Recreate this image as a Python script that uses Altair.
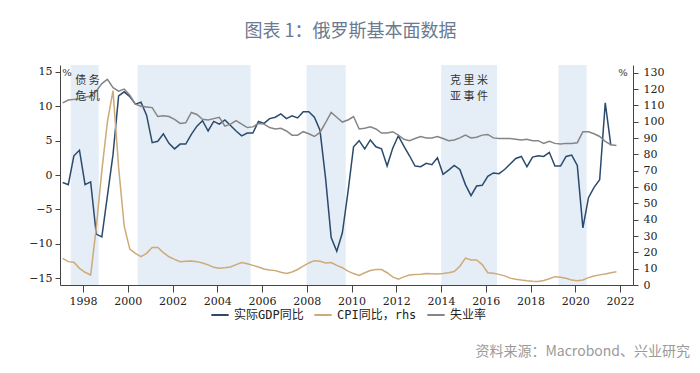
import altair as alt
import pandas as pd

# quarterly index since 1997Q1
gdp = [-1.1, -1.4, 2.8, 3.6, -1.4, -1.0, -8.6, -9.0, -3.0, 3.0,
       11.5, 12.1, 11.4, 10.3, 10.6, 8.7, 4.7, 4.9, 6.0, 4.6,
       3.8, 4.5, 4.5, 5.9, 7.1, 7.9, 6.4, 7.8, 7.4, 8.0,
       7.2, 6.4, 5.7, 6.1, 6.1, 7.8, 7.5, 8.2, 8.4, 8.9,
       8.2, 8.6, 8.3, 9.2, 9.2, 8.4, 6.5, -0.5, -9.1, -11.1,
       -8.4, -2.5, 4.1, 5.0, 3.8, 5.1, 4.1, 3.8, 1.3, 3.9,
       5.7, 4.2, 2.8, 1.3, 1.2, 1.7, 1.5, 2.5, 0.1, 0.7,
       1.4, 0.8, -1.4, -3.0, -1.6, -1.5, -0.2, 0.3, 0.2, 0.8,
       1.6, 2.4, 2.7, 1.2, 2.6, 2.8, 2.7, 3.3, 1.3, 1.3,
       2.7, 2.9, 1.4, -7.7, -3.3, -1.8, -0.7, 10.5, 4.3]

cpi = [16.3, 14.3, 13.9, 10.2, 7.8, 6.1, 35, 70, 100, 119,
       72, 36, 22, 19.4, 17.3, 19.4, 23, 23, 19.8, 17.3,
       15.7, 14.3, 14.5, 14.7, 14.3, 13.5, 12.3, 10.8, 10.2, 10.5,
       11.0, 12.5, 13.8, 13.0, 12.0, 11.0, 9.8, 9.2, 8.8, 7.8,
       7.1, 8.0, 9.5, 11.5, 13.5, 14.9, 14.5, 13.5, 13.7, 12.0,
       10.6, 8.5, 7.0, 5.8, 7.5, 8.9, 9.5, 9.5, 7.5, 5.0,
       3.6, 5.0, 6.1, 6.4, 6.6, 7.0, 6.9, 6.7, 7.0, 7.5,
       8.2, 11.5, 16.5, 15.3, 15.3, 12.5, 7.5, 7.2, 6.5, 5.6,
       4.2, 3.5, 3.0, 2.6, 2.3, 2.2, 2.8, 3.8, 5.1, 4.7,
       4.1, 3.0, 2.6, 3.1, 4.5, 5.5, 6.2, 6.8, 7.5, 8.1]

unemp = [10.5, 10.9, 11.0, 11.1, 11.3, 11.5, 12.2, 13.3, 13.9, 12.7,
         12.2, 12.5, 11.6, 10.3, 10.0, 9.9, 9.8, 8.5, 8.6, 8.5,
         8.1, 7.5, 7.6, 9.1, 8.8, 8.1, 8.0, 8.2, 8.4, 7.1,
         7.4, 7.9, 7.4, 6.9, 7.0, 7.5, 7.4, 6.9, 6.7, 6.8,
         6.4, 5.8, 5.8, 6.3, 6.0, 5.6, 6.2, 7.6, 9.1, 8.4,
         7.7, 8.0, 8.5, 6.7, 6.8, 7.0, 6.7, 6.1, 6.1, 6.3,
         5.8, 5.2, 5.0, 5.3, 5.6, 5.4, 5.4, 5.6, 5.3, 5.0,
         5.1, 5.4, 5.8, 5.4, 5.5, 5.8, 5.9, 5.4, 5.3, 5.3,
         5.3, 5.2, 5.1, 5.2, 5.0, 5.0, 4.6, 4.9, 4.6, 4.5,
         4.6, 4.6, 4.7, 6.3, 6.3, 6.0, 5.6, 4.9, 4.4, 4.3]

band_start = [1997.45, 2000.44, 2007.99, 2014.01, 2019.25]
band_end = [1998.70, 2005.49, 2009.74, 2016.50, 2020.51]

event_lines = ["债 务", "危 机", "克 里 米", "亚 事 件"]
event_year = [1998.2, 1998.2, 2015.25, 2015.25]
event_row = [0, 1, 0, 1]

series = ["实际GDP同比", "CPI同比，rhs", "失业率"]
colors = ["#2b4a6d", "#cdaa78", "#858585"]
x_ticks = list(range(1998, 2023, 2))


def qtime(i):
    return 1997.09 + 0.25 * i


left_df = pd.DataFrame(
    [{"t": qtime(i), "v": v, "s": series[0]} for i, v in enumerate(gdp)]
    + [{"t": qtime(i), "v": v, "s": series[2]} for i, v in enumerate(unemp)]
)
cpi_df = pd.DataFrame([{"t": qtime(i), "v": v, "s": series[1]} for i, v in enumerate(cpi)])
band_df = pd.DataFrame({"start": band_start, "end": band_end})
event_df = pd.DataFrame({"year": event_year, "label": event_lines,
                         "py": [16 + 16 * r for r in event_row]})

serif = "DejaVu Serif"
cjk = "Noto Sans CJK SC"

xscale = alt.Scale(domain=[1996.97, 2022.58], nice=False, zero=False)
color_scale = alt.Scale(domain=series, range=colors)

bands = alt.Chart(band_df).mark_rect(color="#e5edf7").encode(
    x=alt.X("start:Q", scale=xscale,
            axis=alt.Axis(values=x_ticks, format="d", title=None, grid=False,
                          labelFont=serif, labelFontSize=11, labelColor="#222",
                          tickColor="#444", domainColor="#444", tickSize=7,
                          labelPadding=3)),
    x2="end:Q",
)

left_lines = alt.Chart(left_df).mark_line(strokeWidth=1.5).encode(
    x=alt.X("t:Q", scale=xscale),
    y=alt.Y("v:Q", scale=alt.Scale(domain=[-16, 16], nice=False, zero=False),
            axis=alt.Axis(orient="left", values=[-15, -10, -5, 0, 5, 10, 15], title=None,
                          grid=False, labelFont=serif, labelFontSize=11, labelColor="#222",
                          tickColor="#444", domainColor="#444", tickSize=5, labelPadding=3)),
    color=alt.Color("s:N", scale=color_scale,
                    legend=alt.Legend(orient="none", legendX=150, legendY=240,
                                      direction="horizontal", title=None,
                                      symbolType="stroke", symbolStrokeWidth=2,
                                      symbolSize=300, labelFont="DejaVu Sans Mono, Noto Sans CJK SC",
                                      labelFontSize=12, labelColor="#222",
                                      columnPadding=6, labelOffset=4)),
)

cpi_line = alt.Chart(cpi_df).mark_line(strokeWidth=1.5).encode(
    x=alt.X("t:Q", scale=xscale),
    y=alt.Y("v:Q", scale=alt.Scale(domain=[0, 134.7], nice=False, zero=True),
            axis=alt.Axis(orient="right", values=list(range(0, 131, 10)), title=None,
                          grid=False, labelFont=serif, labelFontSize=11, labelColor="#222",
                          tickColor="#444", domainColor="#444", tickSize=5, labelPadding=5)),
    color=alt.Color("s:N", scale=color_scale),
)

event_text = alt.Chart(event_df).mark_text(
    font=cjk, fontSize=11, color="#333", baseline="middle", align="center"
).encode(
    x=alt.X("year:Q", scale=xscale),
    y=alt.Y("py:Q", scale=None),
    text="label:N",
)

pct_df = pd.DataFrame({"label": ["%", "%"], "px": [7, 563]})
pct_text = alt.Chart(pct_df).mark_text(font=serif, fontSize=10, color="#333", baseline="middle").encode(
    x=alt.X("px:Q", scale=None), y=alt.value(8), text="label:N"
)

src_df = pd.DataFrame({"label": ["资料来源：Macrobond、兴业研究"]})
src_text = alt.Chart(src_df).mark_text(font=cjk, fontSize=14, color="#9a9a9a",
                                       align="right", baseline="middle").encode(
    x=alt.value(630), y=alt.value(287), text="label:N"
)

chart = alt.layer(bands, left_lines, cpi_line, event_text, pct_text, src_text).resolve_scale(
    y="independent"
).properties(
    width=573, height=220,
    autosize=alt.AutoSizeParams(type="none"),
    padding={"left": 52, "top": 57, "right": 59, "bottom": 80},
    title=alt.TitleParams(text="图表 1：俄罗斯基本面数据", anchor="middle", fontSize=18,
                          font=cjk, fontWeight="normal", color="#6b7a90", offset=24, dx=4),
    background="white",
).configure_view(stroke=None)

chart.save("out.html", embed_options={"renderer": "svg", "actions": False})
